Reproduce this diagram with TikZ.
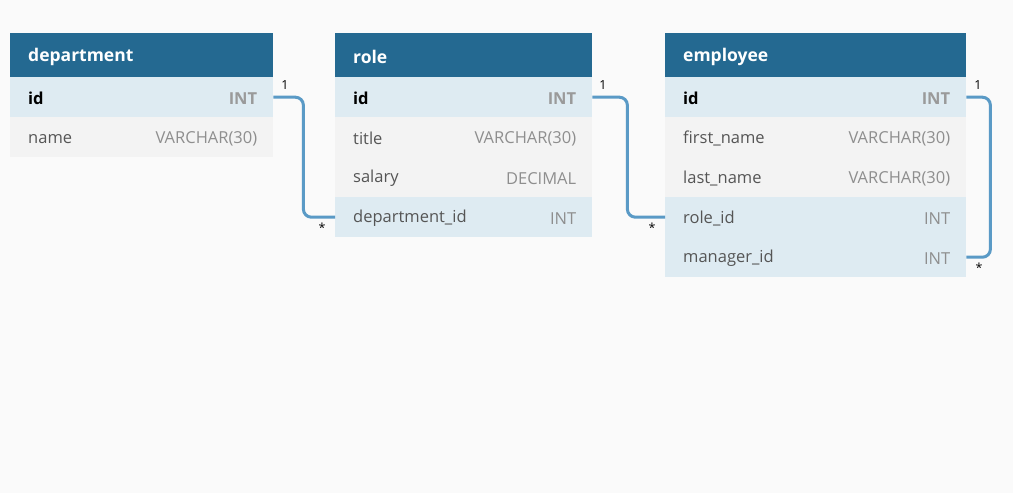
\documentclass[tikz,border=0pt]{standalone}
\usepackage{fontspec}
\setmainfont{Open Sans}
\definecolor{bgc}{HTML}{FAFAFA}
\definecolor{headc}{HTML}{246991}
\definecolor{keyc}{HTML}{DEEBF2}
\definecolor{rowc}{HTML}{F3F3F3}
\definecolor{linec}{HTML}{5A9AC6}
\definecolor{namec}{HTML}{555555}
\definecolor{typec}{HTML}{8E8E8E}
\definecolor{ktypec}{HTML}{9A9A9A}
\begin{document}
\begin{tikzpicture}[x=1pt,y=-1pt,
  cell/.style={rectangle,inner sep=0pt,anchor=north west,minimum height=40pt},
  headcell/.style={cell,fill=headc,minimum height=44pt},
  keycell/.style={cell,fill=keyc},
  plaincell/.style={cell,fill=rowc},
  title/.style={anchor=west,inner sep=0pt,yshift=-1.5pt,text=white,font=\fontsize{17.5}{20}\selectfont\bfseries},
  fname/.style={anchor=west,inner sep=0pt,yshift=-1.5pt,text=namec,font=\fontsize{16.5}{19}\selectfont},
  kname/.style={anchor=west,inner sep=0pt,yshift=-1.5pt,text=black,font=\fontsize{16.5}{19}\selectfont\bfseries},
  ftype/.style={anchor=east,inner sep=0pt,yshift=-1.5pt,text=typec,font=\fontsize{16.5}{19}\selectfont},
  ktype/.style={anchor=east,inner sep=0pt,yshift=-1.5pt,text=ktypec,font=\fontsize{16.5}{19}\selectfont\bfseries},
  rel/.style={draw=linec,line width=3pt,rounded corners=8pt},
  card/.style={inner sep=0pt,font=\fontsize{12.5}{14}\selectfont,text=black}
]
\fill[bgc] (0,0) rectangle (1013,493);
\useasboundingbox (0,0) rectangle (1013,493);

% ---------- department ----------
\node[headcell,minimum width=263pt] (dh) at (10,33) {};
\node[title] (dht) at ([xshift=18pt]dh.west) {department};
\node[keycell,minimum width=263pt] (did) at (10,77) {};
\node[kname] (didn) at ([xshift=18pt]did.west) {id};
\node[ktype] (didt) at ([xshift=-16pt]did.east) {INT};
\node[plaincell,minimum width=263pt] (dname) at (10,117) {};
\node[fname] (dnamen) at ([xshift=18pt]dname.west) {name};
\node[ftype] (dnamet) at ([xshift=-16pt]dname.east) {VARCHAR(30)};

% ---------- role ----------
\node[headcell,minimum width=257pt] (rh) at (335,33) {};
\node[title] (rht) at ([xshift=18pt]rh.west) {role};
\node[keycell,minimum width=257pt] (rid) at (335,77) {};
\node[kname] (ridn) at ([xshift=18pt]rid.west) {id};
\node[ktype] (ridt) at ([xshift=-16pt]rid.east) {INT};
\node[plaincell,minimum width=257pt] (rtitle) at (335,117) {};
\node[fname] (rtitlen) at ([xshift=18pt]rtitle.west) {title};
\node[ftype] (rtitlet) at ([xshift=-16pt]rtitle.east) {VARCHAR(30)};
\node[plaincell,minimum width=257pt] (rsal) at (335,157) {};
\node[fname] (rsaln) at ([xshift=18pt]rsal.west) {salary};
\node[ftype] (rsalt) at ([xshift=-16pt]rsal.east) {DECIMAL};
\node[keycell,minimum width=257pt] (rdep) at (335,197) {};
\node[fname] (rdepn) at ([xshift=18pt]rdep.west) {department\_id};
\node[ftype] (rdept) at ([xshift=-16pt]rdep.east) {INT};

% ---------- employee ----------
\node[headcell,minimum width=301pt] (eh) at (665,33) {};
\node[title] (eht) at ([xshift=18pt]eh.west) {employee};
\node[keycell,minimum width=301pt] (eid) at (665,77) {};
\node[kname] (eidn) at ([xshift=18pt]eid.west) {id};
\node[ktype] (eidt) at ([xshift=-16pt]eid.east) {INT};
\node[plaincell,minimum width=301pt] (efn) at (665,117) {};
\node[fname] (efnn) at ([xshift=18pt]efn.west) {first\_name};
\node[ftype] (efnt) at ([xshift=-16pt]efn.east) {VARCHAR(30)};
\node[plaincell,minimum width=301pt] (eln) at (665,157) {};
\node[fname] (elnn) at ([xshift=18pt]eln.west) {last\_name};
\node[ftype] (elnt) at ([xshift=-16pt]eln.east) {VARCHAR(30)};
\node[keycell,minimum width=301pt] (erole) at (665,197) {};
\node[fname] (erolen) at ([xshift=18pt]erole.west) {role\_id};
\node[ftype] (erolet) at ([xshift=-16pt]erole.east) {INT};
\node[keycell,minimum width=301pt] (emgr) at (665,237) {};
\node[fname] (emgrn) at ([xshift=18pt]emgr.west) {manager\_id};
\node[ftype] (emgrt) at ([xshift=-16pt]emgr.east) {INT};

% ---------- relations ----------
\draw[rel] (did.east) -- ++(30,0) |- (rdep.west);
\draw[rel] (rid.east) -- ++(35,0) |- (erole.west);
\draw[rel] (eid.east) -- ++(24,0) |- (emgr.east);

\node[card] (c1) at (285,85) {1};
\node[card] (c2) at (322,228) {*};
\node[card] (c3) at (603,85) {1};
\node[card] (c4) at (652,228) {*};
\node[card] (c5) at (978,85) {1};
\node[card] (c6) at (979,268) {*};
\end{tikzpicture}
\end{document}
